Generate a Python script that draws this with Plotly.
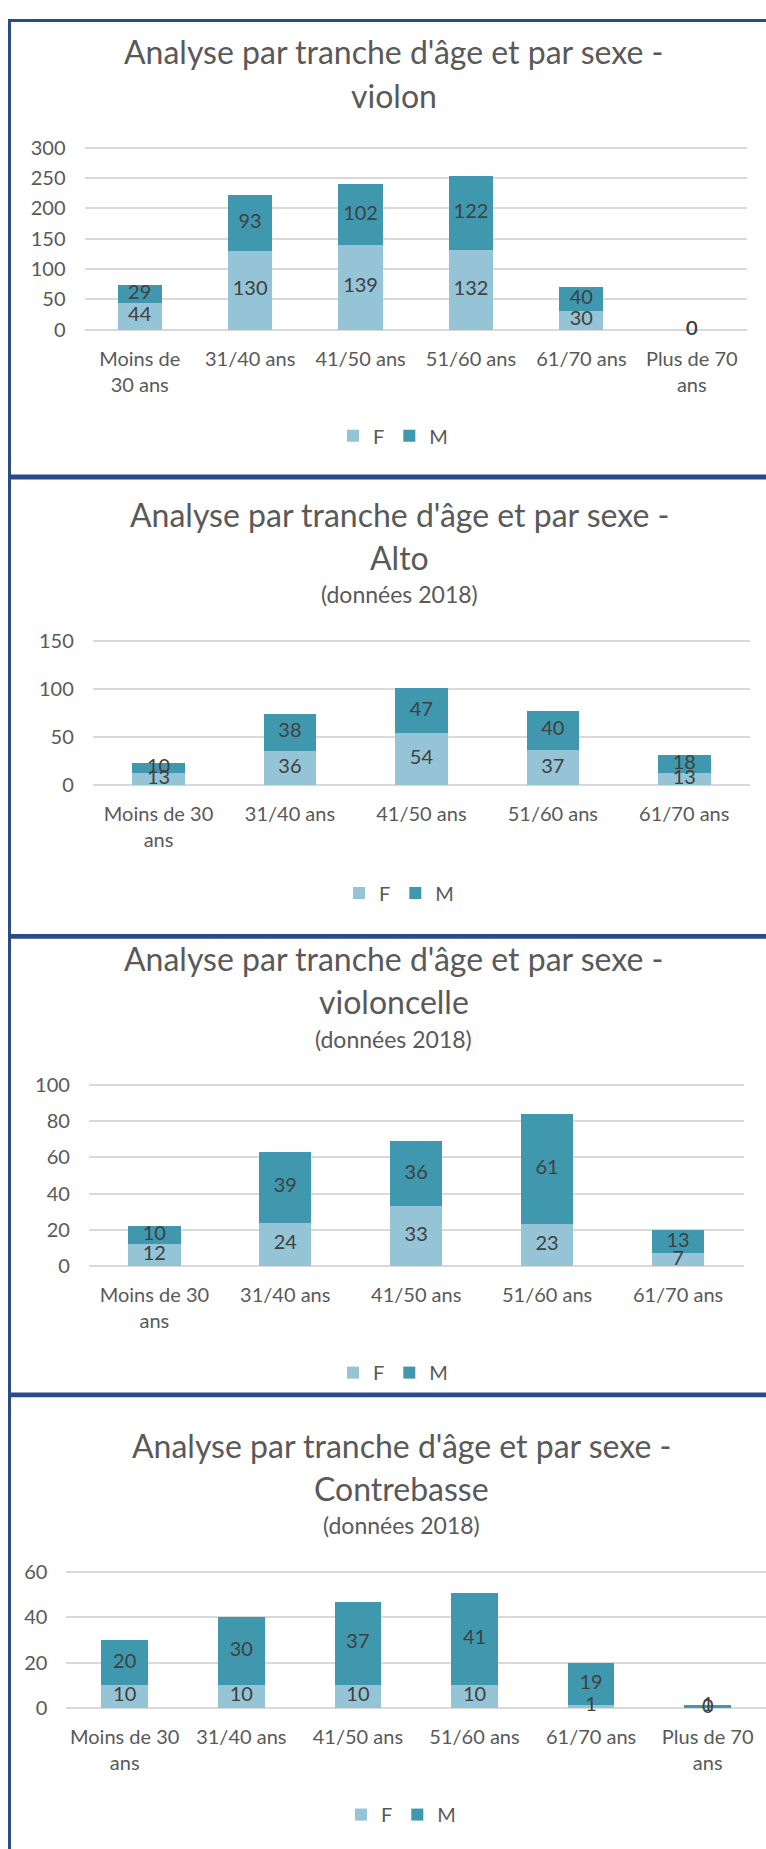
import plotly.graph_objects as go

W, H = 766, 1849
FONT = "Lato"
GRAY = "#595959"
LABEL = "#404040"
COL_F = "#94C4D5"
COL_M = "#4098AF"
GRID = "#D9D9D9"
NAVY = "#2B4A88"

# ---------------- data ----------------
ages6 = ["Moins de 30 ans", "31/40 ans", "41/50 ans", "51/60 ans", "61/70 ans", "Plus de 70 ans"]
ages5 = ages6[:5]

violon_F = [44, 130, 139, 132, 30, 0]
violon_M = [29, 93, 102, 122, 40, 0]
alto_F = [13, 36, 54, 37, 13]
alto_M = [10, 38, 47, 40, 18]
cello_F = [12, 24, 33, 23, 7]
cello_M = [10, 39, 36, 61, 13]
cb_F = [10, 10, 10, 10, 1, 0]
cb_M = [20, 30, 37, 41, 19, 1]

ticks_violon = ["Moins de<br>30 ans", "31/40 ans", "41/50 ans", "51/60 ans", "61/70 ans", "Plus de 70<br>ans"]
ticks_5 = ["Moins de 30<br>ans", "31/40 ans", "41/50 ans", "51/60 ans", "61/70 ans"]
ticks_6 = ticks_5 + ["Plus de 70<br>ans"]

title_line1 = "Analyse par tranche d'âge et par sexe -"
instruments = ["violon", "Alto", "violoncelle", "Contrebasse"]
subtitle = "(données 2018)"

# ---------------- layout geometry (pixels) ----------------
def fx(p):
    return p / W

def fy(p):
    return 1 - p / H

panels = [
    dict(cats=ages6, F=violon_F, M=violon_M, ticks=ticks_violon, vmax=300, dtick=50,
         x0=84.5, x1=747, p0=322.7, p1=139.3, tx=393.5, l1=41.5, l2=86.5, sub=None,
         lgx=393, lgy=430, inst=instruments[0]),
    dict(cats=ages5, F=alto_F, M=alto_M, ticks=ticks_5, vmax=150, dtick=50,
         x0=92.8, x1=750, p0=783, p1=637, tx=399, l1=509.2, l2=552.5, sub=589.7,
         lgx=399, lgy=891.7, inst=instruments[1]),
    dict(cats=ages5, F=cello_F, M=cello_M, ticks=ticks_5, vmax=100, dtick=20,
         x0=88.9, x1=743.5, p0=1268.3, p1=1085.7, tx=393.5, l1=957.5, l2=1001.5, sub=1039,
         lgx=393, lgy=1376, inst=instruments[2]),
    dict(cats=ages6, F=cb_F, M=cb_M, ticks=ticks_6, vmax=60, dtick=20,
         x0=66.4, x1=766, p0=1714.3, p1=1577.7, tx=401, l1=1449.2, l2=1493.5, sub=1530,
         lgx=401, lgy=1822.3, inst=instruments[3]),
]

fig = go.Figure()
layout = dict(
    width=W, height=H, margin=dict(l=0, r=0, t=0, b=0),
    paper_bgcolor="white", plot_bgcolor="white",
    barmode="stack", bargap=0.6,
    font=dict(family=FONT, color=GRAY, size=20),
    annotations=[], shapes=[],
)

for i, p in enumerate(panels, start=1):
    xa = "x" if i == 1 else f"x{i}"
    ya = "y" if i == 1 else f"y{i}"
    lg = "legend" if i == 1 else f"legend{i}"
    cats = p["cats"]

    fig.add_trace(go.Bar(x=cats, y=p["F"], name="F", marker=dict(color=COL_F, line=dict(width=0)),
                         xaxis=xa, yaxis=ya, legend=lg, hoverinfo="skip"))
    fig.add_trace(go.Bar(x=cats, y=p["M"], name="M", marker=dict(color=COL_M, line=dict(width=0)),
                         xaxis=xa, yaxis=ya, legend=lg, hoverinfo="skip"))
    # data labels centred on each segment
    fig.add_trace(go.Scatter(x=cats, y=[f / 2 for f in p["F"]], mode="text",
                             text=[str(v) for v in p["F"]],
                             textfont=dict(family=FONT, size=20, color=LABEL),
                             xaxis=xa, yaxis=ya, showlegend=False, hoverinfo="skip", cliponaxis=False))
    fig.add_trace(go.Scatter(x=cats, y=[f + m / 2 for f, m in zip(p["F"], p["M"])], mode="text",
                             text=[str(v) for v in p["M"]],
                             textfont=dict(family=FONT, size=20, color=LABEL),
                             xaxis=xa, yaxis=ya, showlegend=False, hoverinfo="skip", cliponaxis=False))

    k = (p["p0"] - p["p1"]) / p["vmax"]
    e = 3
    layout["xaxis" if i == 1 else f"xaxis{i}"] = dict(
        domain=[fx(p["x0"]), fx(p["x1"])], anchor=ya, type="category",
        categoryorder="array", categoryarray=cats,
        tickmode="array", tickvals=cats, ticktext=p["ticks"],
        tickfont=dict(family=FONT, size=20, color=GRAY), tickangle=0,
        showgrid=False, showline=False, zeroline=False, ticks="",
        ticklabelstandoff=12, fixedrange=True,
    )
    layout["yaxis" if i == 1 else f"yaxis{i}"] = dict(
        domain=[fy(p["p0"] + e), fy(p["p1"] - e)], anchor=xa,
        range=[-e / k, p["vmax"] + e / k], tick0=0, dtick=p["dtick"],
        tickfont=dict(family=FONT, size=20, color=GRAY),
        showgrid=True, gridcolor=GRID, gridwidth=1.5,
        zeroline=True, zerolinecolor=GRID, zerolinewidth=1.5,
        showline=False, ticks="", ticklabelstandoff=18, fixedrange=True,
    )
    layout[lg] = dict(orientation="h", x=fx(p["lgx"]), y=fy(p["lgy"]),
                      xanchor="center", yanchor="middle", traceorder="normal",
                      bgcolor="rgba(0,0,0,0)", font=dict(family=FONT, size=20, color=GRAY))

    layout["annotations"].append(dict(text=title_line1, x=fx(p["tx"]), y=fy(p["l1"]), xref="paper", yref="paper",
                                      xanchor="center", yanchor="middle", showarrow=False,
                                      font=dict(family=FONT, size=32, color=GRAY)))
    layout["annotations"].append(dict(text=p["inst"], x=fx(p["tx"]), y=fy(p["l2"]), xref="paper", yref="paper",
                                      xanchor="center", yanchor="middle", showarrow=False,
                                      font=dict(family=FONT, size=32, color=GRAY)))
    if p["sub"] is not None:
        layout["annotations"].append(dict(text=subtitle, x=fx(p["tx"]), y=fy(p["sub"]), xref="paper", yref="paper",
                                          xanchor="center", yanchor="middle", showarrow=False,
                                          font=dict(family=FONT, size=23, color=GRAY)))

# panel frame lines
bands_h = [(9, 12), (469, 474), (933, 938), (1396, 1401)]
for a, b in bands_h:
    layout["shapes"].append(dict(type="rect", xref="paper", yref="paper", x0=fx(8), x1=fx(800),
                                 y0=fy(b), y1=fy(a), fillcolor=NAVY, line=dict(width=0), layer="above"))
layout["shapes"].append(dict(type="rect", xref="paper", yref="paper", x0=fx(8), x1=fx(11),
                             y0=fy(1870), y1=fy(9), fillcolor=NAVY, line=dict(width=0), layer="above"))

fig.update_layout(**layout)

fig.write_html("out.html", config={"displayModeBar": False},
               post_script="document.body.style.margin='0';document.body.style.overflow='hidden';")
